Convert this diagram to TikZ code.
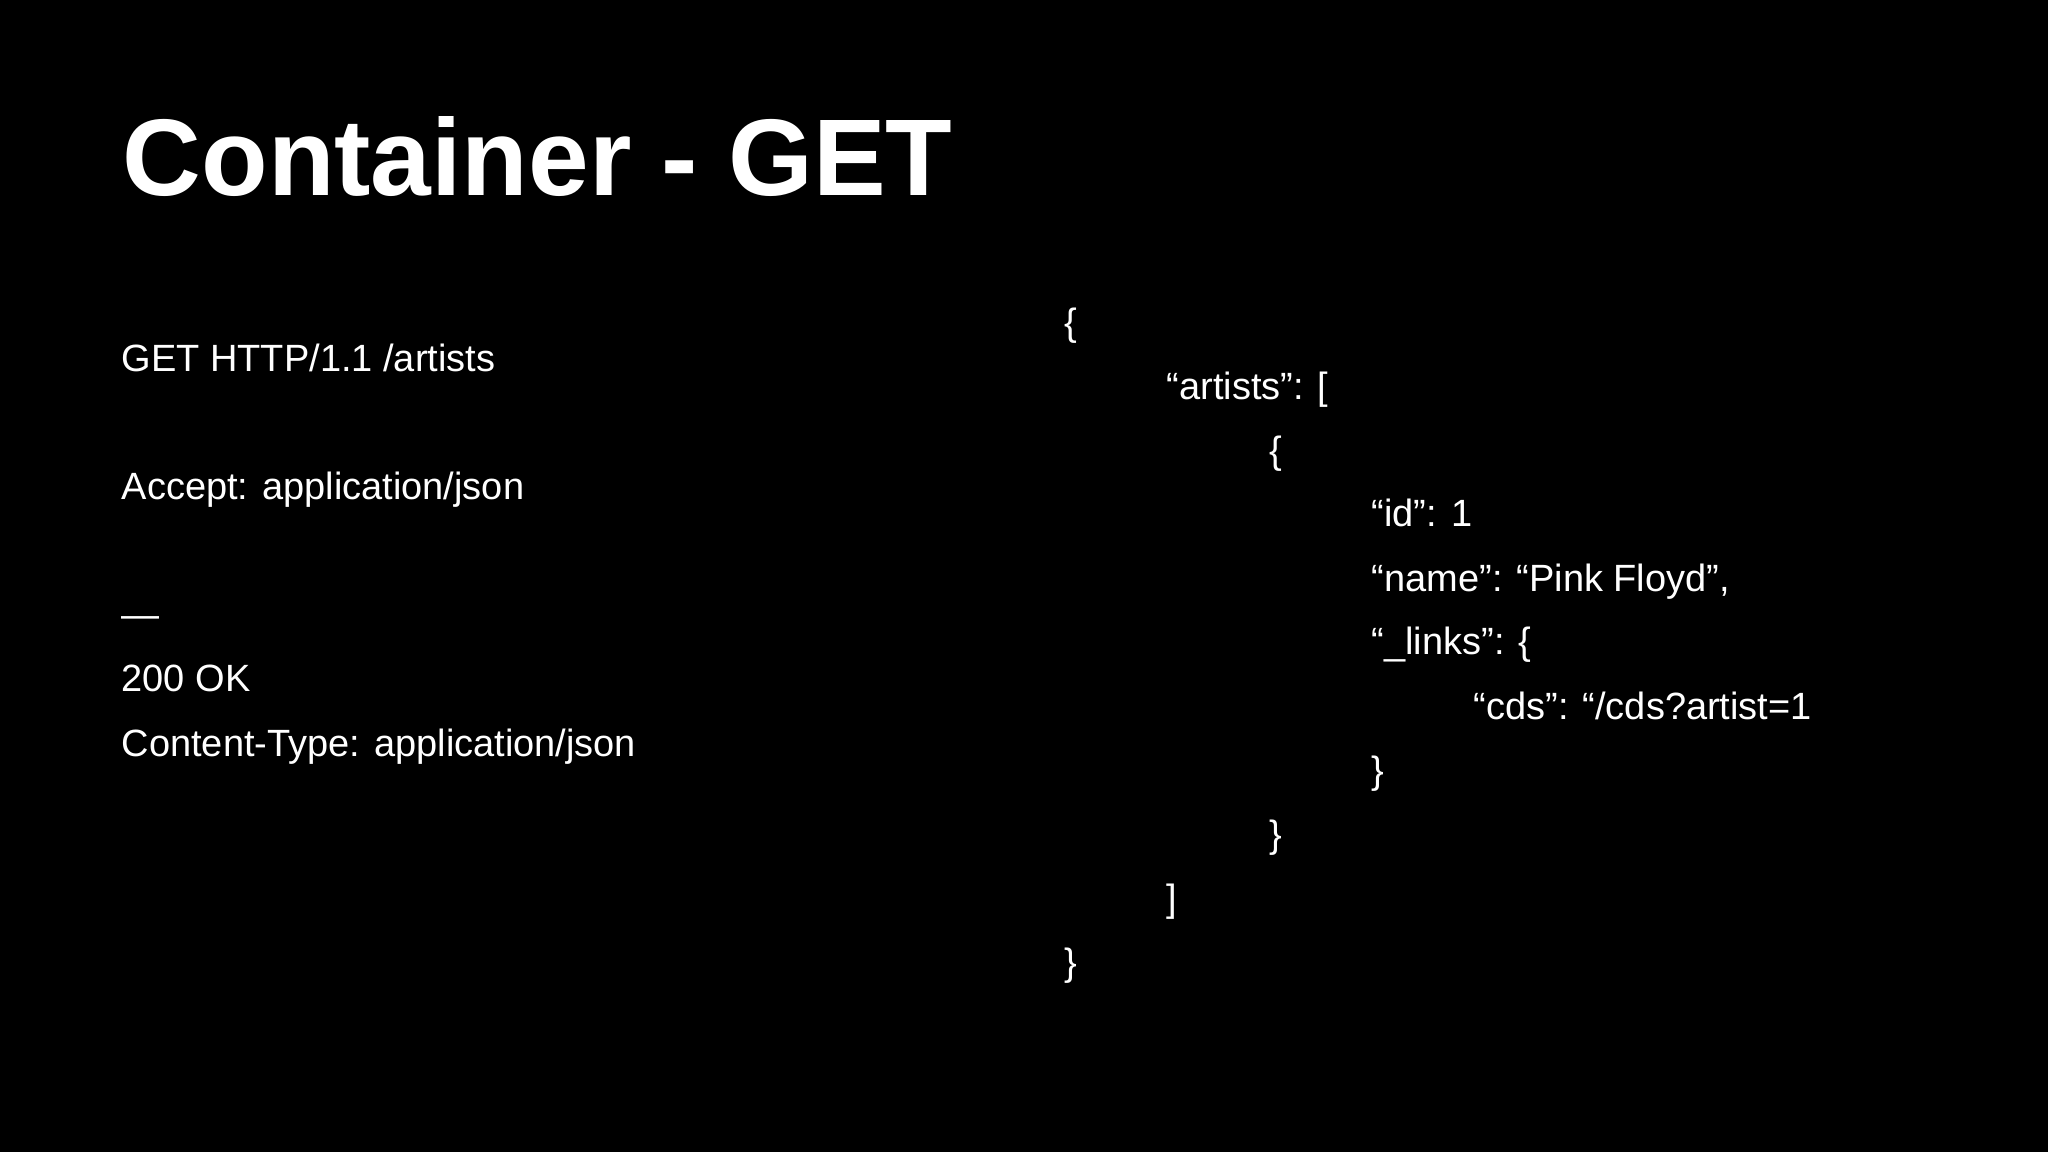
\documentclass[tikz,border=0pt]{standalone}
\usepackage{fontspec}
\setmainfont{Liberation Sans}
\begin{document}
\begin{tikzpicture}[x=0.01cm,y=-0.01cm,
  txt/.style={anchor=base west,inner sep=0pt,text=white,font=\fontsize{10.8pt}{13pt}\selectfont},
  ttl/.style={anchor=base west,inner sep=0pt,text=white,font=\fontsize{31pt}{36pt}\selectfont\bfseries}]
\fill[black] (0,0) rectangle (2048,1152);
\useasboundingbox (0,0) rectangle (2048,1152);
\node[ttl] (title) at (122,196) {Container - GET};
\node[txt] (l1) at (121,372) {GET HTTP/1.1 /artists};
\node[txt] (l2) at (121,500) {Accept: application/json};
\node[txt] (l3) at (121,627) {---};
\node[txt] (l4) at (121,692) {200 OK};
\node[txt] (l5) at (121,756) {Content-Type: application/json};
\node[txt] (j1) at (1064,336) {\{};
\node[txt] (j2) at (1166,400) {“artists”: [};
\node[txt] (j3) at (1269,464) {\{};
\node[txt] (j4) at (1371,527) {“id”: 1};
\node[txt] (j5) at (1371,591) {“name”: “Pink Floyd”,};
\node[txt] (j6) at (1371,655) {“\_links”: \{};
\node[txt] (j7) at (1473,719) {“cds”: “/cds?artist=1};
\node[txt] (j8) at (1371,783) {\}};
\node[txt] (j9) at (1269,847) {\}};
\node[txt] (j10) at (1166,911) {]};
\node[txt] (j11) at (1064,975) {\}};
\end{tikzpicture}
\end{document}
